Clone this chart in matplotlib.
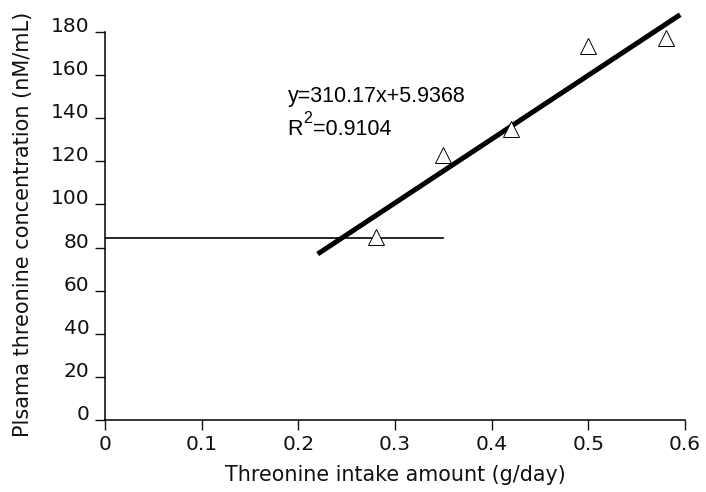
import matplotlib
matplotlib.use("Agg")
import matplotlib.pyplot as plt

# data
intake = [0.28, 0.35, 0.42, 0.50, 0.58]
conc = [85.0, 123.0, 135.0, 173.5, 177.0]
trend_x = [0.22, 0.595]
trend_y = [77.0, 188.0]
plateau_x = [0.0, 0.35]
plateau_y = [84.6, 84.6]
xticks = [0, 0.1, 0.2, 0.3, 0.4, 0.5, 0.6]
xticklabels = ["0", "0.1", "0.2", "0.3", "0.4", "0.5", "0.6"]
yticks = [0, 20, 40, 60, 80, 100, 120, 140, 160, 180]
eq_text = "y=310.17x+5.9368"
r2_base = "R"
r2_sup = "2"
r2_rest = "=0.9104"

plt.rcParams['font.family'] = ['DejaVu Sans']

fig = plt.figure(figsize=(7.06, 4.92), dpi=100)
ax = fig.add_axes([105/706, 1-420/492, 580/706, 190*2.156/492])
ax.set_xlim(0, 0.6)
ax.set_ylim(0, 190)

ax.plot(plateau_x, plateau_y, color='black', lw=1.2, zorder=2)
ax.plot(trend_x, trend_y, color='black', lw=3.6, solid_capstyle='butt', zorder=3)
ax.plot(intake, conc, linestyle='none', marker='^', ms=12, mfc='white',
        mec='black', mew=0.7, zorder=4)

for s in ['top', 'right']:
    ax.spines[s].set_visible(False)
ax.spines['left'].set_bounds(0, 180)
ax.spines['left'].set_linewidth(1.1)
ax.spines['bottom'].set_linewidth(1.1)

ax.set_xticks(xticks)
ax.set_xticklabels(xticklabels)
ax.set_yticks(yticks)
ax.tick_params(axis='both', direction='out', length=7, width=1.0, labelsize=14.5,
               colors='#111111')
ax.tick_params(axis='x', pad=4)
ax.tick_params(axis='y', pad=4)
for lab in ax.get_yticklabels():
    lab.set_va('baseline')

ax.set_xlabel("Threonine intake amount (g/day)", fontsize=14.9, color='#111111', labelpad=8)
ax.set_ylabel("Plsama threonine concentration (nM/mL)", fontsize=15.0, color='#111111')
ax.yaxis.set_label_coords((33 - 105) / 580, (420 - 224) / (190 * 2.156))

fs = 15.5
ax.text(0.189, 147.5, eq_text, fontsize=fs, family='Liberation Sans', va='baseline')
ax.annotate(r2_base, xy=(0.189, 132.2), fontsize=fs, family='Liberation Sans', va='baseline')
ax.annotate(r2_sup, xy=(0.189, 132.2), xytext=(0.722*fs, 8.5), textcoords='offset points',
            fontsize=11.5, family='Liberation Sans', va='baseline')
ax.annotate(r2_rest, xy=(0.189, 132.2), xytext=(0.722*fs + 0.556*11.5 + 0.5, 0),
            textcoords='offset points', fontsize=fs, family='Liberation Sans', va='baseline')

fig.savefig("out.png", dpi=100)
